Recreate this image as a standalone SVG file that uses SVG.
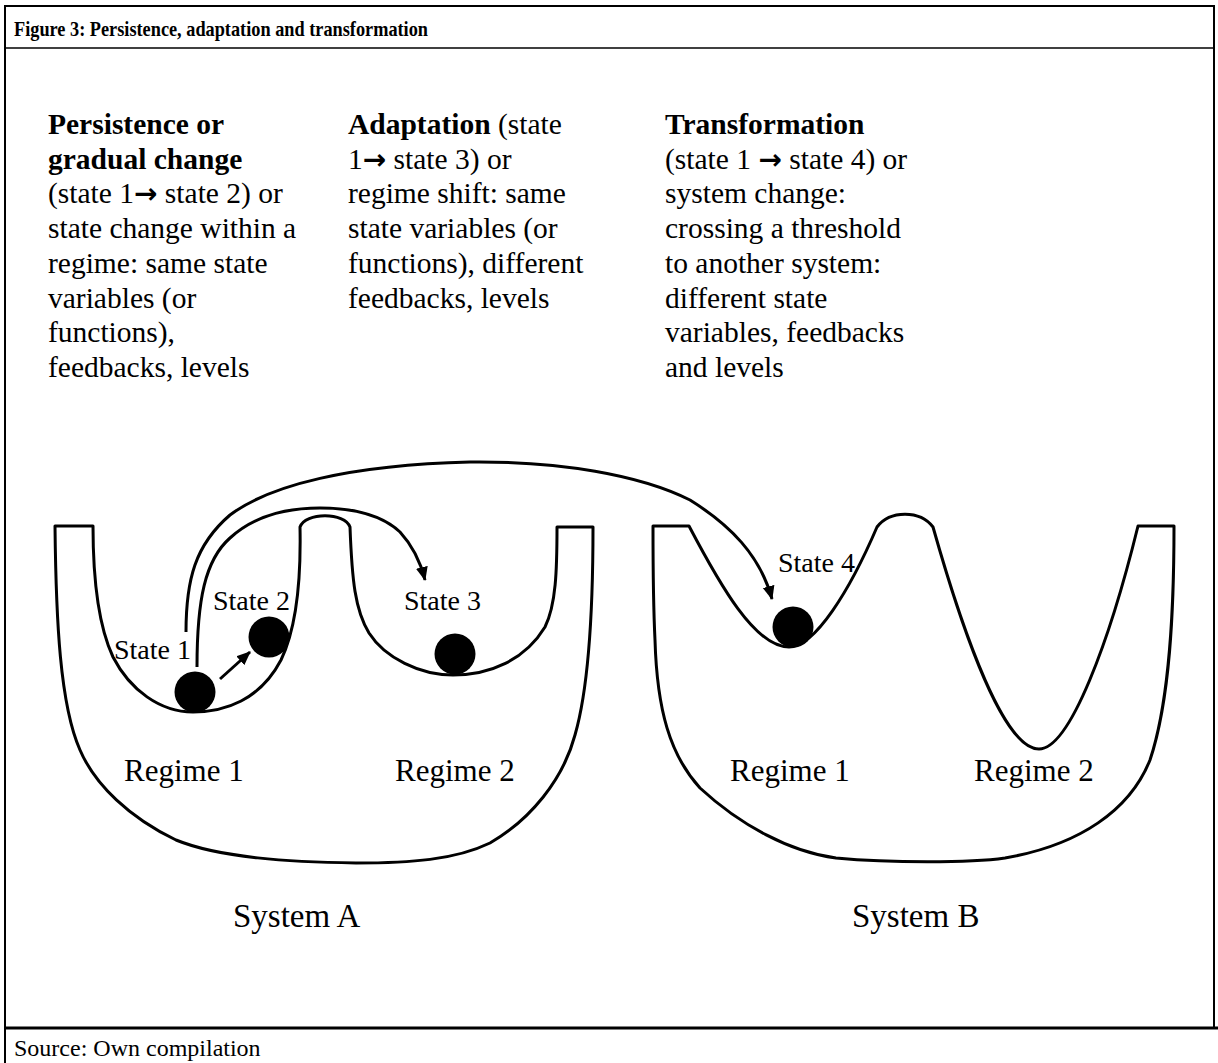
<svg xmlns="http://www.w3.org/2000/svg" width="1218" height="1063" viewBox="0 0 1218 1063">
<defs>
<marker id="ah" markerUnits="userSpaceOnUse" markerWidth="16" markerHeight="14" refX="13" refY="7" orient="auto">
<path d="M0,1 L14,7 L0,13 Z" fill="#000"/>
</marker>
<style>
.t{font-family:"Liberation Serif","Times New Roman",serif;fill:#000}
.body{font-size:29.5px}
.b{font-weight:bold}
.ar{font-family:"DejaVu Sans",sans-serif;font-weight:bold;font-size:28px}
.st{font-size:28px}
.rg{font-size:31px}
.sy{font-size:33px}
.ln{fill:none;stroke:#000;stroke-width:3;stroke-linejoin:round;stroke-linecap:butt}
.fr{fill:none;stroke:#000}
</style>
</defs>
<g id="frame">
<line class="fr" x1="4" y1="6" x2="1215" y2="6" stroke-width="2"/>
<line class="fr" x1="4" y1="48" x2="1215" y2="48" stroke-width="1.5"/>
<line class="fr" x1="4" y1="1028" x2="1218" y2="1028" stroke-width="3"/>
<line class="fr" x1="5" y1="5" x2="5" y2="1063" stroke-width="2"/>
<line class="fr" x1="1214" y1="5" x2="1214" y2="1028" stroke-width="2"/>
</g>
<text class="t b" x="14" y="36" font-size="21" textLength="414" lengthAdjust="spacingAndGlyphs">Figure 3: Persistence, adaptation and transformation</text>
<text class="t" x="14" y="1056" font-size="24">Source: Own compilation</text>
<g id="text-persistence" class="t body">
<text x="48" y="134" class="b">Persistence or</text>
<text x="48" y="168.7" class="b">gradual change</text>
<text x="48" y="203.4">(state 1<tspan class="ar">→</tspan> state 2) or</text>
<text x="48" y="238.1">state change within a</text>
<text x="48" y="272.8">regime: same state</text>
<text x="48" y="307.5">variables (or</text>
<text x="48" y="342.2">functions),</text>
<text x="48" y="376.9">feedbacks, levels</text>
</g>
<g id="text-adaptation" class="t body">
<text x="348" y="134"><tspan class="b">Adaptation</tspan> (state</text>
<text x="348" y="168.7">1<tspan class="ar">→</tspan> state 3) or</text>
<text x="348" y="203.4">regime shift: same</text>
<text x="348" y="238.1">state variables (or</text>
<text x="348" y="272.8">functions), different</text>
<text x="348" y="307.5">feedbacks, levels</text>
</g>
<g id="text-transformation" class="t body">
<text x="665" y="134" class="b">Transformation</text>
<text x="665" y="168.7">(state 1 <tspan class="ar">→</tspan> state 4) or</text>
<text x="665" y="203.4">system change:</text>
<text x="665" y="238.1">crossing a threshold</text>
<text x="665" y="272.8">to another system:</text>
<text x="665" y="307.5">different state</text>
<text x="665" y="342.2">variables, feedbacks</text>
<text x="665" y="376.9">and levels</text>
</g>
<g id="system-a">
<path class="ln" d="M55,526 H93 C93,580 98,625 113,657 C130,690 160,712 193,712 C225,712 260,700 281,660 C298,625 301,575 300,527 C305,512 345,512 350,527 C352,580 355,610 369,633 C385,658 420,675 453,675 C490,675 525,660 545,627 C556,605 557,570 557,527 H593 C593,610 588,690 575,735 C563,780 530,820 490,843 C455,860 410,863 356,863 C290,862 220,858 176,840 C130,818 95,785 80,750 C60,705 56,620 55,526 Z"/>
<text class="t rg" x="124" y="781">Regime 1</text>
<text class="t rg" x="395" y="781">Regime 2</text>
<text class="t sy" x="233" y="927">System A</text>
</g>
<g id="system-b">
<path class="ln" d="M653,526 H689 C720,585 755,647 789,647 C815,647 850,590 877,527 C890,510 920,510 933,527 C965,640 1005,749 1039,749 C1070,749 1110,640 1138,526 H1174 C1174,610 1170,700 1150,760 C1130,810 1080,845 1005,858 C970,863 890,863 836,858 C790,852 740,825 700,788 C670,755 657,710 655,640 C653,600 653,560 653,526 Z"/>
<text class="t rg" x="730" y="781">Regime 1</text>
<text class="t rg" x="974" y="781">Regime 2</text>
<text class="t sy" x="852" y="927">System B</text>
</g>
<g id="state-1">
<circle cx="195" cy="692" r="20.5" fill="#000"/>
<text class="t st" x="114" y="659">State 1</text>
</g>
<g id="state-2">
<circle cx="269" cy="637" r="20.5" fill="#000"/>
<text class="t st" x="213" y="610">State 2</text>
</g>
<g id="state-3">
<circle cx="455" cy="654" r="20.5" fill="#000"/>
<text class="t st" x="404" y="610">State 3</text>
</g>
<g id="state-4">
<circle cx="793" cy="627" r="20.5" fill="#000"/>
<text class="t st" x="778" y="572">State 4</text>
</g>
<g id="connectors">
<path class="ln" d="M220,679 L250,652" marker-end="url(#ah)"/>
<path class="ln" d="M197,667 C197,600 205,560 230,538 C255,515 290,508 320,508 C360,508 385,518 400,532 C412,545 420,560 425,580" marker-end="url(#ah)"/>
<path class="ln" d="M186,632 C186,580 195,545 230,515 C270,485 350,465 470,462 C560,461 640,475 690,500 C730,525 760,555 772,599" marker-end="url(#ah)"/>
</g>
</svg>
